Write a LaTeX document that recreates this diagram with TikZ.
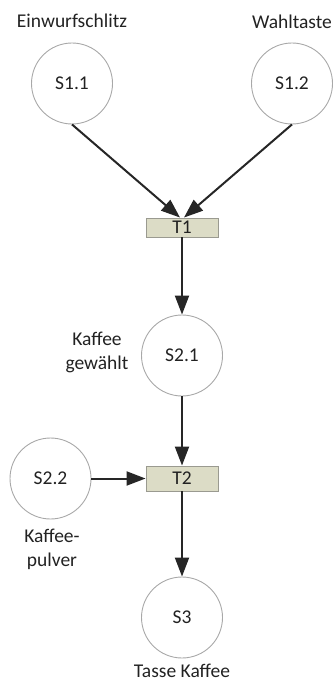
\documentclass[tikz,border=0pt]{standalone}
\usepackage{fontspec}
\setmainfont{Carlito}
\usetikzlibrary{arrows.meta}
\definecolor{boxfill}{HTML}{DCDCC6}
\definecolor{boxline}{HTML}{9A9A90}
\definecolor{circline}{HTML}{A8A8A8}
\definecolor{txt}{HTML}{222222}
\begin{document}
\begin{tikzpicture}[x=1pt,y=-1pt,
  lbl/.style={font=\fontsize{19.5}{23.5}\selectfont, text=txt, inner sep=0pt, anchor=base, align=center},
  place/.style={circle, draw=circline, line width=0.9pt, minimum size=81pt, inner sep=0pt,
                font=\fontsize{19.5}{24}\selectfont, text=txt},
  trans/.style={rectangle, draw=boxline, fill=boxfill, line width=0.9pt, minimum width=72pt, inner sep=0pt,
                font=\fontsize{19.5}{24}\selectfont, text=txt},
  arc/.style={-{Triangle[length=19pt,width=14pt]}, line width=2pt, draw=black!85}
]
\useasboundingbox (0,0) rectangle (333,682);
\node[place] (s11) at (72,83.5) {S1.1};
\node[place] (s12) at (292,83.5) {S1.2};
\node[trans, minimum height=19pt] (t1) at (182,227.5) {T1};
\node[place] (s21) at (182,355.5) {S2.1};
\node[place] (s22) at (50.5,478.5) {S2.2};
\node[trans, minimum height=25pt] (t2) at (182,478.5) {T2};
\node[place] (s3) at (182,617.5) {S3};

\node[lbl] (l11) at (72,28) {Einwurfschlitz};
\node[lbl] (l12) at (292,29) {Wahltaste};
\node[lbl] (l21) at (97,369) {Kaffee\\gewählt};
\node[lbl] (l22) at (52,566) {Kaffee-\\pulver};
\node[lbl] (l3) at (182,677) {Tasse Kaffee};

\draw[arc] (s11.south) -- ([xshift=-2pt]t1.north);
\draw[arc] (s12.south) -- ([xshift=2pt]t1.north);
\draw[arc] (t1.south) -- (s21.north);
\draw[arc] (s21.south) -- (t2.north);
\draw[arc] (s22.east) -- (t2.west);
\draw[arc] (t2.south) -- (s3.north);
\end{tikzpicture}
\end{document}
